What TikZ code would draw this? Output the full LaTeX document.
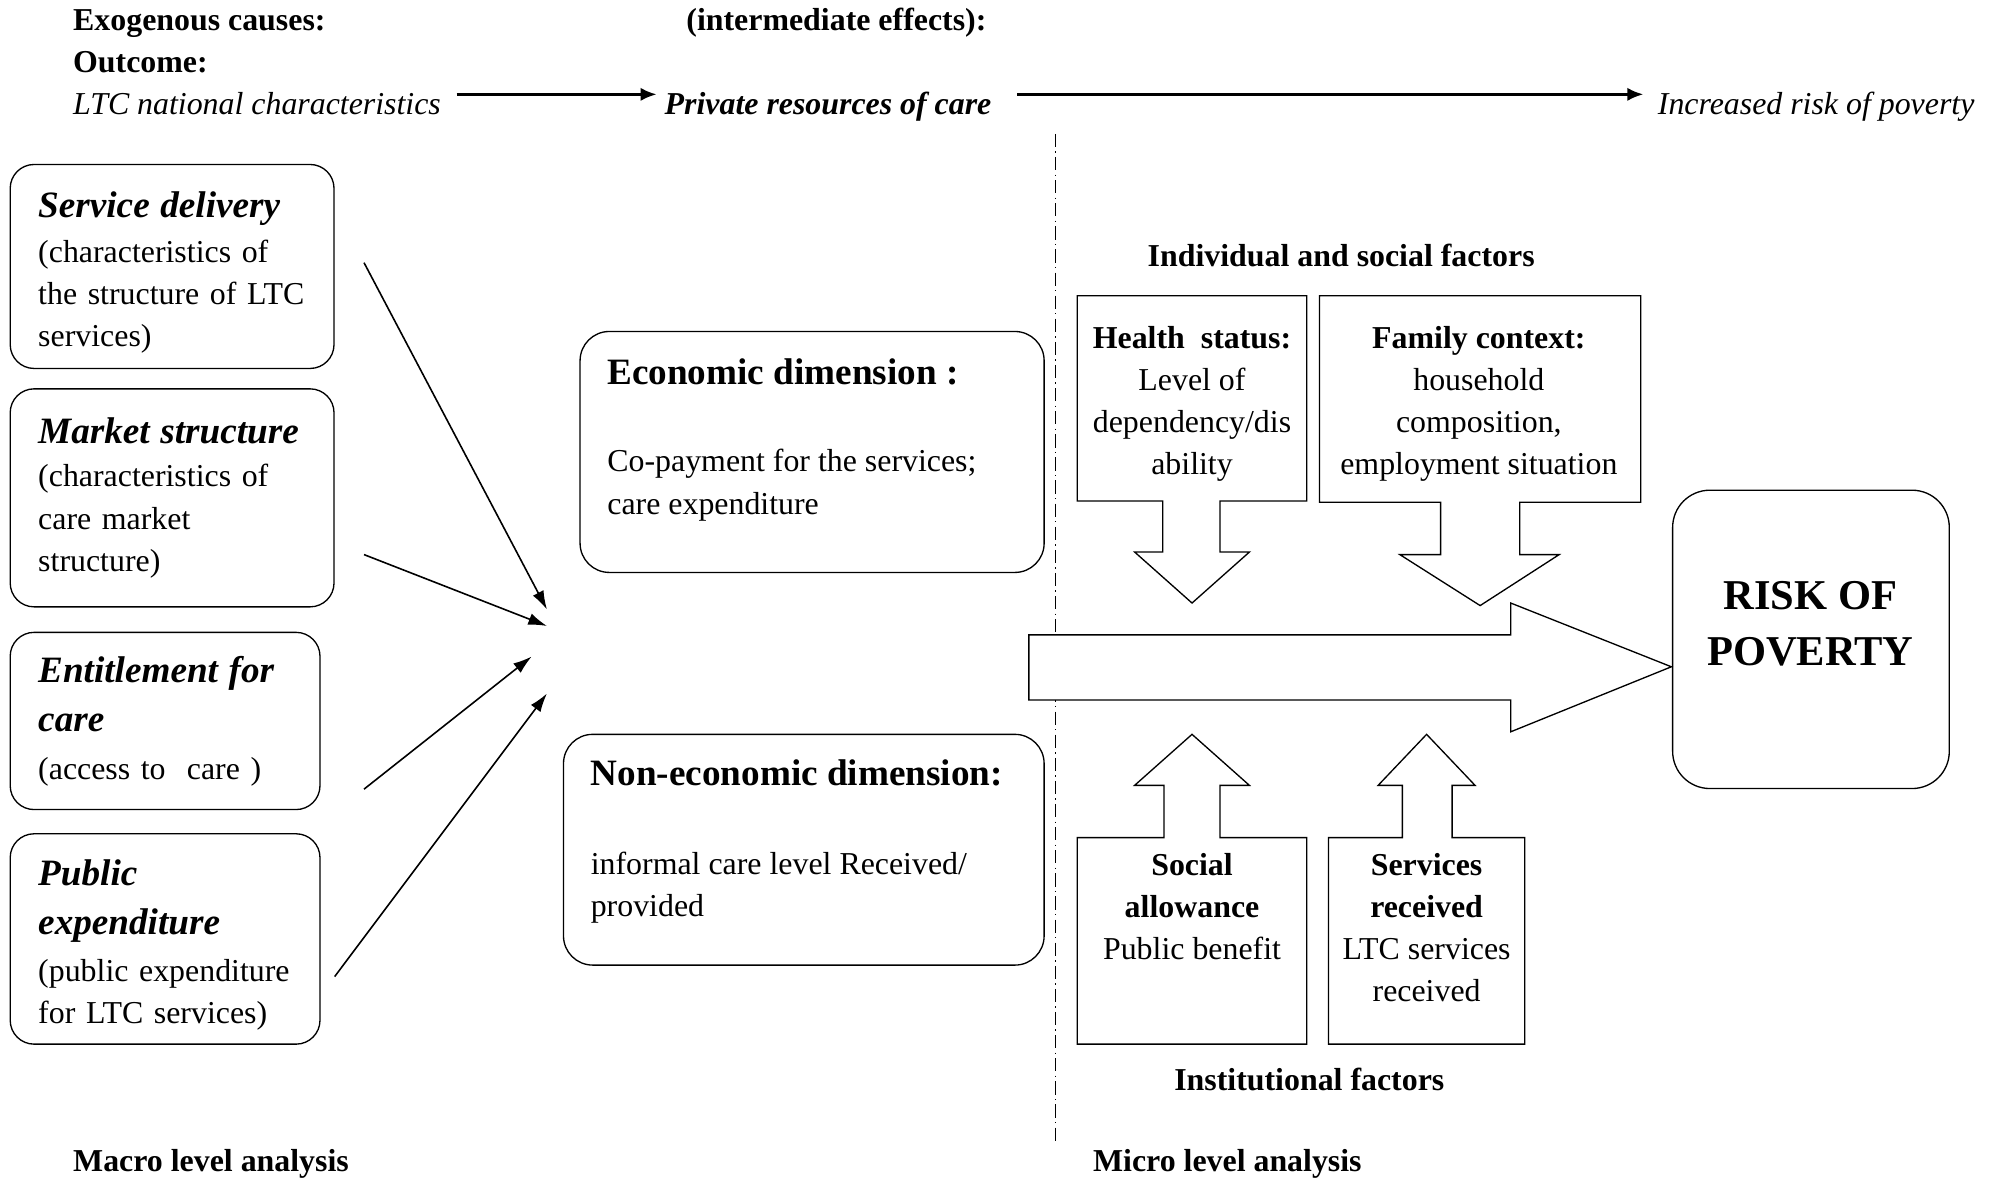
\documentclass[tikz,border=0pt]{standalone}
\usepackage{fontspec}
\setmainfont{Liberation Serif}
\usetikzlibrary{arrows.meta,positioning}
\newcommand{\boxhead}[1]{{\fontsize{14}{17}\selectfont\bfseries\itshape #1}}
\newcommand{\dimhead}[1]{{\fontsize{14}{17}\selectfont\bfseries #1}}

\begin{document}
\begin{tikzpicture}[x=0.48pt, y=-0.48pt,
  txt/.style={font=\fontsize{12}{15.84}\selectfont, inner sep=0pt, align=center},
  txti/.style={font=\fontsize{12}{15.84}\selectfont\itshape, inner sep=0pt},
  txtb/.style={font=\fontsize{12}{15.84}\selectfont\bfseries, inner sep=0pt},
  txtbi/.style={font=\fontsize{12}{15.84}\selectfont\bfseries\itshape, inner sep=0pt},
  causebox/.style={draw, line width=0.5pt, rounded corners=9pt, align=left,
    font=\fontsize{12}{15.84}\selectfont, inner xsep=10.56pt, inner ysep=0pt},
  dimbox/.style={draw, line width=0.5pt, rounded corners=11pt, inner sep=0pt},
  factor/.style={draw, line width=0.5pt, fill=white, line join=miter},
  link/.style={-{Latex[length=7pt,width=4.5pt]}, line width=0.6pt},
  flow/.style={-{Latex[length=6pt,width=5pt]}, line width=1pt}]
  \useasboundingbox (0,0) rectangle (1568,926);

  % top line
  \node[txtb, anchor=base west] (exo) at (57,24) {Exogenous causes:};
  \node[txtb, anchor=base west] (inter) at (538,24) {(intermediate effects):};
  \node[txtb, anchor=base west] (outcome) at (57,57) {Outcome:};
  \node[txti, anchor=base west] (ltc) at (57,90) {LTC national characteristics};
  \node[txtbi, anchor=base west] (private) at (521,90) {Private resources of care};
  \node[txti, anchor=base west] (increased) at (1300,90) {Increased risk of poverty};
  \draw[flow] ([shift={(12,-16)}]ltc.base east) -- ([shift={(-6,-16)}]private.base west);
  \draw[flow] ([shift={(20,-16)}]private.base east) -- ([shift={(-11,-16)}]increased.base west);

  % macro level
  \node[causebox, text width=100.8pt, minimum height=76.8pt] (service) at (135,209)
    {\boxhead{\rule{0pt}{14.4pt}Service delivery}\\[1pt](characteristics of\\the structure of LTC\\services)};
  \node[causebox, text width=100.8pt, minimum height=82.08pt] (market) at (135,390.5)
    {\boxhead{Market structure}\\[0.5pt](characteristics of\\care market\\structure)};
  \node[causebox, text width=95.52pt, minimum height=66.72pt] (entitle) at (129.5,565.5)
    {\boxhead{Entitlement for}\\[2.9pt]\boxhead{care}\\[2pt](access to\ \ care )};
  \node[causebox, text width=95.52pt, minimum height=79.2pt] (public) at (129.5,736.5)
    {\boxhead{\rule{0pt}{14.3pt}Public}\\[2.4pt]\boxhead{expenditure}\\[2pt](public expenditure\\for LTC services)};

  \coordinate (hubA) at (429,478);
  \coordinate (hubB) at (429,491);
  \coordinate (hubC) at (417,515);
  \coordinate (hubD) at (429,544);
  \draw[link] ([shift={(23,-3)}]service.east) -- (hubA);
  \draw[link] ([shift={(23,44.5)}]market.east) -- (hubB);
  \draw[link] ([shift={(34,53.5)}]entitle.east) -- (hubC);
  \draw[link] ([shift={(11,29.5)}]public.east) -- (hubD);

  % intermediate effects
  \node[dimbox, minimum width=174.72pt, minimum height=90.72pt] (eco) at (637,354.5) {};
  \node[txt, anchor=west, align=left, font=\fontsize{12}{16.3}\selectfont] (ecotxt) at (476,345)
    {\dimhead{Economic dimension :}\\[16.3pt]Co-payment for the services;\\care expenditure};
  \node[dimbox, minimum width=180.96pt, minimum height=86.88pt] (noneco) at (630.5,666.5) {};
  \node[txt, anchor=west, align=left] (noneconame) at (463,660)
    {\dimhead{Non-economic dimension:}\\[17.8pt]informal care level Received/\\provided};

  % micro level
  \draw[line width=0.4pt, dash pattern=on 5pt off 1.6pt on 0.5pt off 1.6pt] (828,105) -- (828,897);
  \draw[factor] (807,498) -- (1185,498) -- (1185,473) -- (1311,523) -- (1185,574)
    -- (1185,549) -- (807,549) -- cycle;
  \node[draw, line width=0.5pt, rounded corners=14pt, minimum width=104.16pt,
    minimum height=112.32pt] (risk) at (1420.5,501.5) {};
  \node[font=\fontsize{16}{21.1}\selectfont\bfseries, align=center, inner sep=0pt]
    (risktxt) at (1420,489) {RISK OF\\POVERTY};

  \node[txtb] (indiv) at (1052,200) {Individual and social factors};
  \draw[factor] (845,232) -- (1025,232) -- (1025,393) -- (957,393) -- (957,433) -- (980,433)
    -- (935,473) -- (890,433) -- (912,433) -- (912,393) -- (845,393) -- cycle;
  \node[txt] (health) at (935,316.5)
    {\textbf{Health\ \ status:}\\Level of\\dependency/dis\\ability};
  \draw[factor] (1035,232) -- (1287,232) -- (1287,394) -- (1192,394) -- (1192,435) -- (1223,435)
    -- (1161,475) -- (1098,435) -- (1130,435) -- (1130,394) -- (1035,394) -- cycle;
  \node[txt] (family) at (1160,316.5)
    {\textbf{Family context:}\\household\\composition,\\employment situation};

  \draw[factor] (845,819) -- (1025,819) -- (1025,657) -- (957,657) -- (957,616) -- (980,616)
    -- (935,576) -- (890,616) -- (913,616) -- (913,657) -- (845,657) -- cycle;
  \node[txt] (social) at (935,711)
    {\textbf{Social}\\\textbf{allowance}\\Public benefit};
  \draw[factor] (1042,819) -- (1196,819) -- (1196,657) -- (1139,657) -- (1139,616) -- (1157,616)
    -- (1119,576) -- (1081,616) -- (1100,616) -- (1100,657) -- (1042,657) -- cycle;
  \node[txt] (received) at (1119,727.5)
    {\textbf{Services}\\\textbf{received}\\LTC services\\received};
  \node[txtb] (inst) at (1027,847) {Institutional factors};

  \node[txtb, anchor=base west] (macro) at (57,919) {Macro level analysis};
  \node[txtb, anchor=base west] (micro) at (857,919) {Micro level analysis};
\end{tikzpicture}
\end{document}
